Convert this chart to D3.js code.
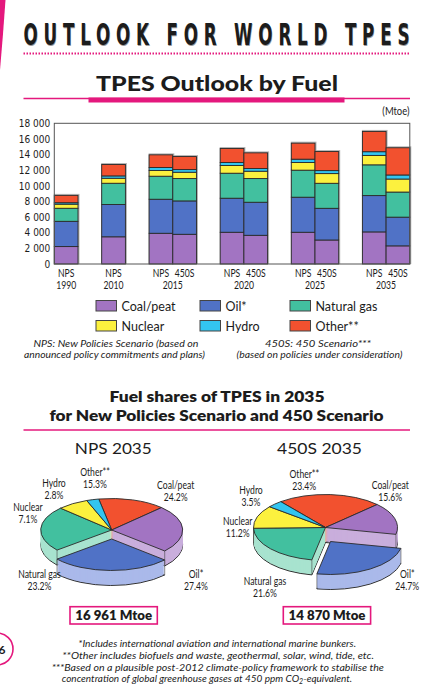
<!DOCTYPE html>
<html>
<head>
<meta charset="utf-8">
<script src="https://cdn.jsdelivr.net/npm/d3@7"></script>
<style>
  body { margin: 0; background: #fff; }
  svg { display: block; }
  text { fill: #1c1c1c; }
</style>
</head>
<body>
<svg></svg>
<script>
// ---- data ----
const fuels = ['Coal/peat', 'Oil*', 'Natural gas', 'Nuclear', 'Hydro', 'Other**'];
const fuelKeys = ['coal', 'oil', 'gas', 'nuclear', 'hydro', 'other'];

const barYears = ['1990', '2010', '2015', '2015', '2020', '2020', '2025', '2025', '2035', '2035'];
const barScens = ['NPS', 'NPS', 'NPS', '450S', 'NPS', '450S', 'NPS', '450S', 'NPS', '450S'];

// Mtoe
const coal    = [2230, 3480, 3930, 3800, 4060, 3670, 4060, 3070, 4105, 2320];
const oil     = [3230, 4130, 4355, 4270, 4355, 4230, 4485, 4055, 4647, 3673];
const gas     = [1670, 2720, 2945, 2860, 3200, 3030, 3460, 3200, 3935, 3212];
const nuclear = [ 525,  640,  725,  810,  980,  940,  980, 1240, 1204, 1665];
const hydro   = [ 185,  300,  385,  340,  385,  340,  425,  385,  475,  520];
const other   = [ 940, 1460, 1625, 1665, 1795, 2010, 2050, 2435, 2595, 3480];

const yTicks = [0, 2000, 4000, 6000, 8000, 10000, 12000, 14000, 16000, 18000];

// 2035 shares (%), in fuel order
const npsShares  = [24.2, 27.4, 23.2, 7.1, 2.8, 15.3];
const s450Shares = [15.6, 24.7, 21.6, 11.2, 3.5, 23.4];
const pieTitles = ['NPS 2035', '450S 2035'];
const pieTotals = ['16 961 Mtoe', '14 870 Mtoe'];

// ---- setup ----
const W = 437, H = 689;
const svg = d3.select('svg').attr('width', W).attr('height', H);

const magenta = '#e4187d';
const colors     = ['#a274c2', '#5072c6', '#42c09f', '#fcf13e', '#33c5f0', '#f2512f'];
const sideColors = ['#c9aedc', '#aab9ea', '#a8e3cf', '#f2eb9a', '#a5e2f4', '#f5a18f'];

const headFont = "Lato, 'Open Sans', sans-serif";
const narrowFont = "'Liberation Sans Narrow', 'DejaVu Sans Condensed', sans-serif";

function txt(x, y, s, o) {
  o = o || {};
  let parent = svg, tx = x, ty = y;
  if (o.sx) {
    parent = svg.append('g').attr('transform', `translate(${x},${y}) scale(${o.sx},1)`);
    tx = 0; ty = 0;
  }
  let t = parent.append('text')
    .attr('x', tx).attr('y', ty)
    .attr('text-anchor', o.anchor || 'middle')
    .style('font-family', o.font || headFont)
    .style('font-size', (o.size || 11) + 'px')
    .style('font-weight', o.weight || 'normal')
    .style('font-style', o.style || 'normal')
    .text(s);
  if (o.len) t.attr('textLength', o.len).attr('lengthAdjust', o.adjust || 'spacingAndGlyphs');
  return t;
}

// page decoration
svg.append('path').attr('d', 'M0,0 L5.5,0 Q3,36 0,70 Z').attr('fill', magenta);

// main title
let title = svg.append('g').attr('transform', 'translate(23.5,45) scale(0.6,1)');
title.append('text')
  .attr('x', 0.8).attr('y', 0.8)
  .attr('textLength', 386 / 0.6).attr('lengthAdjust', 'spacing')
  .style('font-family', "'DejaVu Sans Condensed', 'DejaVu Sans', sans-serif")
  .style('font-weight', 'bold').style('font-size', '31px')
  .style('fill', '#9a9a9a')
  .text('OUTLOOK FOR WORLD TPES');
title.append('text')
  .attr('x', 0).attr('y', 0)
  .attr('textLength', 386 / 0.6).attr('lengthAdjust', 'spacing')
  .style('font-family', "'DejaVu Sans Condensed', 'DejaVu Sans', sans-serif")
  .style('font-weight', 'bold').style('font-size', '31px')
  .text('OUTLOOK FOR WORLD TPES');

svg.append('line')
  .attr('x1', 23.5).attr('x2', 410).attr('y1', 53.5).attr('y2', 53.5)
  .attr('stroke', magenta).attr('stroke-width', 1.8).attr('stroke-dasharray', '1.5,1.5');

// chart title
txt(217, 90.5, 'TPES Outlook by Fuel', { size: 21, weight: 900, len: 242 });
svg.append('line')
  .attr('x1', 23.5).attr('x2', 410).attr('y1', 98.5).attr('y2', 98.5)
  .attr('stroke', magenta).attr('stroke-width', 1.3);
svg.append('rect')
  .attr('x', 88.5).attr('y', 97.5).attr('width', 256).attr('height', 5)
  .attr('fill', magenta);

txt(409.5, 115, '(Mtoe)', { anchor: 'end', size: 10.5, sx: 0.9 });

// ---- bar chart ----
const plot = { left: 54.3, right: 409.8, top: 123.3, bottom: 264 };

const rows = barYears.map((yr, i) => ({
  key: barScens[i] + yr, year: yr, scen: barScens[i],
  coal: coal[i], oil: oil[i], gas: gas[i], nuclear: nuclear[i], hydro: hydro[i], other: other[i]
}));

// one slot per bar, plus an empty slot between year groups
const slotKeys = [];
rows.forEach((r, i) => {
  if (i > 0 && r.year !== rows[i - 1].year) slotKeys.push('gap' + i);
  slotKeys.push(r.key);
});

const x = d3.scaleBand().domain(slotKeys).range([plot.left, plot.right]).padding(0);
const y = d3.scaleLinear().domain([0, 18000]).range([plot.bottom, plot.top]);

const stacked = d3.stack().keys(fuelKeys)(rows);

const bars = svg.append('g').attr('id', 'bars');

// soft grey halo behind each bar
bars.selectAll('rect.shadow')
  .data(rows)
  .join('rect')
  .attr('class', 'shadow')
  .attr('x', d => x(d.key) - 0.5)
  .attr('y', d => y(d3.sum(fuelKeys, k => d[k])) - 1.5)
  .attr('width', x.bandwidth() + 2)
  .attr('height', d => plot.bottom - y(d3.sum(fuelKeys, k => d[k])) + 1.5)
  .attr('fill', '#b5b5b5');

bars.selectAll('g.layer')
  .data(stacked)
  .join('g')
  .attr('class', 'layer')
  .attr('fill', (d, i) => colors[i])
  .selectAll('rect')
  .data(d => d)
  .join('rect')
  .attr('x', d => x(d.data.key))
  .attr('y', d => y(d[1]))
  .attr('width', x.bandwidth())
  .attr('height', d => y(d[0]) - y(d[1]))
  .attr('stroke', '#2a2a2a')
  .attr('stroke-width', 0.9);

// frame
svg.append('rect')
  .attr('x', plot.left).attr('y', plot.top)
  .attr('width', plot.right - plot.left).attr('height', plot.bottom - plot.top)
  .attr('fill', 'none').attr('stroke', '#555').attr('stroke-width', 1);

const fmt = d3.formatLocale({ decimal: '.', thousands: ' ', grouping: [3], currency: ['', ''] }).format(',');

const yAxis = svg.append('g')
  .attr('transform', `translate(${plot.left},0)`)
  .call(d3.axisLeft(y).tickValues(yTicks).tickSize(0).tickPadding(4).tickFormat(fmt));
yAxis.select('.domain').remove();
yAxis.selectAll('text')
  .style('font-family', narrowFont).style('font-size', '10px').style('fill', '#1c1c1c');

// x labels
rows.forEach(r => {
  txt(x(r.key) + x.bandwidth() / 2, 277, r.scen, { size: 10.5, sx: 0.82 });
});
const years = Array.from(new Set(barYears));
years.forEach(yr => {
  const ks = rows.filter(r => r.year === yr).map(r => x(r.key) + x.bandwidth() / 2);
  txt(d3.mean(ks), 288.5, yr, { size: 10.5, sx: 0.82 });
});

// legend
const legCols = [96, 200, 290];
const legRows = [300.5, 320.5];
fuels.forEach((f, i) => {
  const lx = legCols[i % 3], ly = legRows[Math.floor(i / 3)];
  svg.append('rect')
    .attr('x', lx).attr('y', ly).attr('width', 20.5).attr('height', 10.5)
    .attr('fill', colors[i]).attr('stroke', '#444').attr('stroke-width', 1);
  txt(lx + 25.5, ly + 10, f, { anchor: 'start', size: 12.5 });
});

// scenario notes
txt(116, 346.5, 'NPS: New Policies Scenario (based on', { size: 10, style: 'italic', len: 165 });
txt(114.5, 357.5, 'announced policy commitments and plans)', { size: 10, style: 'italic', len: 181 });
txt(318, 346.5, '450S: 450 Scenario***', { size: 10, style: 'italic', len: 106 });
txt(319.5, 357.5, '(based on policies under consideration)', { size: 10, style: 'italic', len: 166 });

// ---- pie section ----
txt(217, 401.5, 'Fuel shares of TPES in 2035', { size: 15.5, weight: 800, len: 215 });
txt(216.5, 420.5, 'for New Policies Scenario and 450 Scenario', { size: 15.5, weight: 800, len: 334 });
svg.append('line')
  .attr('x1', 23.5).attr('x2', 410).attr('y1', 430).attr('y2', 430)
  .attr('stroke', magenta).attr('stroke-width', 1.3);

txt(113.3, 454, pieTitles[0], { size: 15.5, len: 77 });
txt(319.5, 454, pieTitles[1], { size: 15.5, len: 85 });

// slice order around the pie, clockwise: other, coal, oil, gas, nuclear, hydro
const pieOrder = [5, 0, 1, 2, 3, 4];
const depth = 15;

function draw3dPie(shares, cx, cy, rx, ry, startDeg, explode) {
  const g = svg.append('g');
  const start = startDeg * Math.PI / 180;
  const pie = d3.pie().sort(null).value(d => d.v)
    .startAngle(start).endAngle(start + 2 * Math.PI);
  const slices = pie(pieOrder.map(i => ({ i: i, v: shares[i] })));
  const arc = d3.arc().innerRadius(0).outerRadius(rx);
  const sy = ry / rx;

  function solid(list, tx, ty) {
    for (let k = depth; k >= 1; k--) {
      g.append('g')
        .attr('transform', `translate(${tx},${ty + k}) scale(1,${sy})`)
        .selectAll('path')
        .data(list)
        .join('path')
        .attr('d', arc)
        .attr('fill', d => sideColors[d.data.i])
        .attr('stroke', k === depth ? '#333' : 'none')
        .attr('stroke-width', 1)
        .attr('vector-effect', 'non-scaling-stroke');
    }
    // vertical edges at the rim ends of each slice (front half only)
    list.forEach(d => {
      [d.startAngle, d.endAngle].forEach(a => {
        if (Math.cos(a) < 0.05) {
          const px = tx + rx * Math.sin(a), py = ty - ry * Math.cos(a);
          g.append('line')
            .attr('x1', px).attr('x2', px).attr('y1', py).attr('y2', py + depth)
            .attr('stroke', '#444').attr('stroke-width', 0.6);
        }
      });
    });
    g.append('g')
      .attr('transform', `translate(${tx},${ty}) scale(1,${sy})`)
      .selectAll('path')
      .data(list)
      .join('path')
      .attr('d', arc)
      .attr('fill', d => colors[d.data.i])
      .attr('stroke', '#2a2a2a')
      .attr('stroke-width', 0.9)
      .attr('vector-effect', 'non-scaling-stroke');
  }

  const main = slices.filter(d => d.data.i !== 1);
  const out = slices.filter(d => d.data.i === 1);
  solid(main, cx, cy);
  solid(out, cx + explode[0], cy + explode[1]);
}

draw3dPie(npsShares, 111.7, 530, 71, 31.5, -10.5, [0, 9]);
draw3dPie(s450Shares, 325.5, 527.5, 72, 33, -38.4, [5, 14]);

// pie labels (name, share) – positions follow the printed layout
const pieLabelPos = [
  // NPS: coal, oil, gas, nuclear, hydro, other
  [[175.7, 489], [196, 578], [39.5, 578], [28, 511], [54, 487], [95, 476]],
  // 450S
  [[390.3, 489], [407.3, 578], [265, 585], [237.7, 525], [251, 494], [304.3, 478]]
];
[npsShares, s450Shares].forEach((shares, p) => {
  shares.forEach((s, i) => {
    const [lx, ly] = pieLabelPos[p][i];
    txt(lx, ly, fuels[i], { size: 10.5, sx: 0.82 });
    txt(lx, ly + 11.5, d3.format('.1f')(s) + '%', { size: 10.5, sx: 0.82 });
  });
});

// totals
[[70, 113.7], [283.3, 327]].forEach((b, i) => {
  svg.append('rect')
    .attr('x', b[0]).attr('y', 606.7).attr('width', 87.3).attr('height', 17.3)
    .attr('fill', '#fff').attr('stroke', magenta).attr('stroke-width', 1.6);
  txt(b[1], 620, pieTotals[i], { size: 13, weight: 800, len: 77 });
});

// page number
svg.append('circle')
  .attr('cx', -3).attr('cy', 649).attr('r', 16)
  .attr('fill', 'none').attr('stroke', magenta).attr('stroke-width', 1.6);
txt(5.5, 653.5, '6', { anchor: 'end', size: 12, weight: 'bold' });

// footnotes
txt(217.2, 647.3, '*Includes international aviation and international marine bunkers.',
  { size: 10, style: 'italic', len: 277.7 });
txt(218.2, 659.3, '**Other includes biofuels and waste, geothermal, solar, wind, tide, etc.',
  { size: 10, style: 'italic', len: 311.7 });
txt(217.8, 670.5, '***Based on a plausible post-2012 climate-policy framework to stabilise the',
  { size: 10, style: 'italic', len: 332.3 });
let fn4 = svg.append('text')
  .attr('x', 61.7).attr('y', 681.8)
  .attr('text-anchor', 'start')
  .style('font-family', headFont).style('font-size', '10px').style('font-style', 'italic');
fn4.append('tspan').text('concentration of global greenhouse gases at 450 ppm CO');
fn4.append('tspan').attr('dy', 2.5).style('font-size', '7px').text('2');
fn4.append('tspan').attr('dy', -2.5).text('-equivalent.');
</script>
</body>
</html>
